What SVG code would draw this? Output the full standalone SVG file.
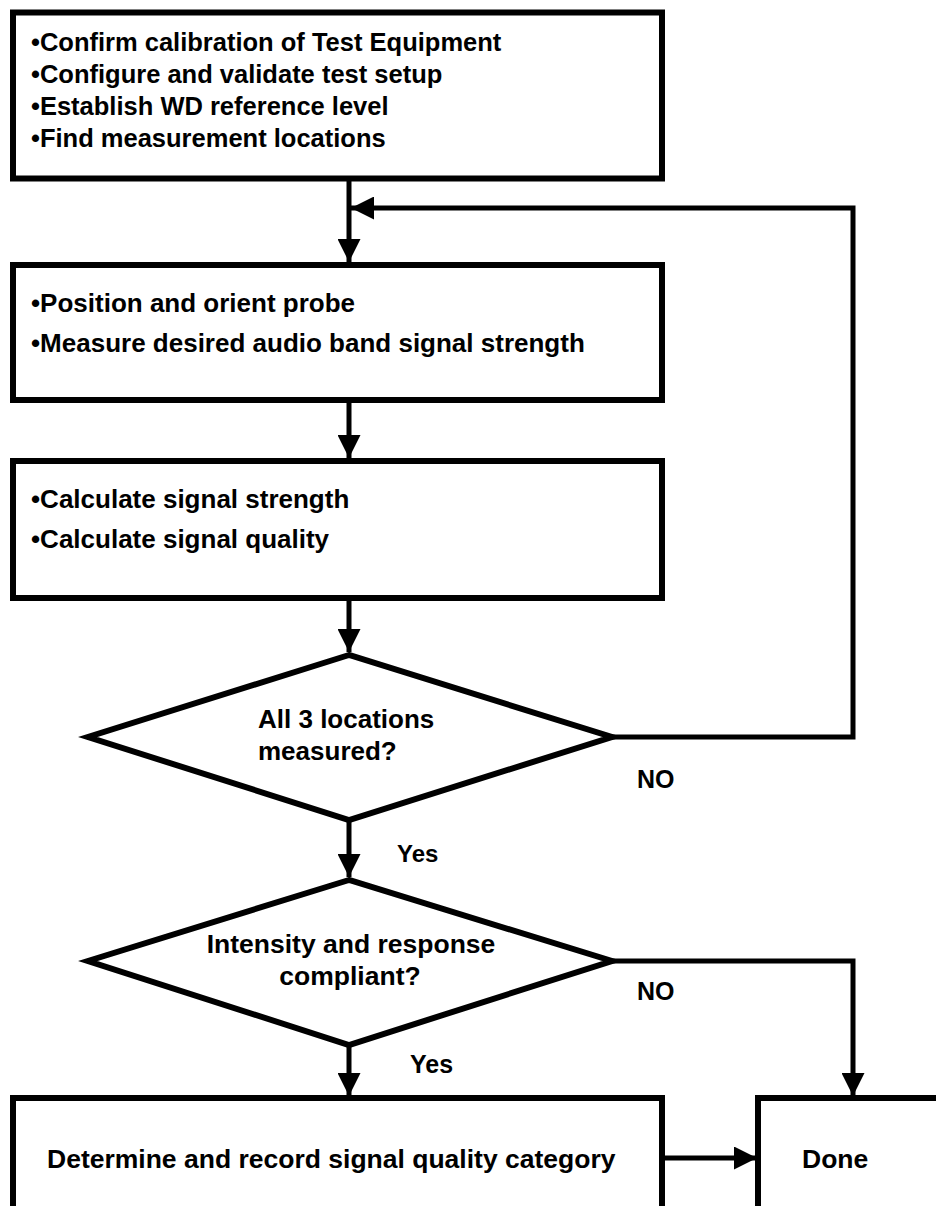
<svg xmlns="http://www.w3.org/2000/svg" width="936" height="1206" viewBox="0 0 936 1206">
<defs>
<style>
.box{fill:#fff;stroke:#000;stroke-width:6}
.ln{fill:none;stroke:#000;stroke-width:5}
.t{font-family:"Liberation Sans",Arial,sans-serif;font-weight:bold;fill:#000}
</style>
<marker id="ah" viewBox="0 0 10 10" refX="10" refY="5" markerWidth="4.6" markerHeight="4.6" markerUnits="strokeWidth" orient="auto">
<path d="M0,0 L10,5 L0,10 z" fill="#000"/>
</marker>
</defs>
<rect width="936" height="1206" fill="#fff"/>
<g id="connectors">
<line class="ln" x1="349" y1="179" x2="349" y2="262" marker-end="url(#ah)"/>
<polyline class="ln" points="612,737 853,737 853,208 351,208" marker-end="url(#ah)"/>
<line class="ln" x1="349" y1="400" x2="349" y2="458" marker-end="url(#ah)"/>
<line class="ln" x1="349" y1="598" x2="349" y2="652" marker-end="url(#ah)"/>
<line class="ln" x1="349" y1="820" x2="349" y2="877" marker-end="url(#ah)"/>
<polyline class="ln" points="612,961 853,961 853,1096" marker-end="url(#ah)"/>
<line class="ln" x1="349" y1="1045" x2="349" y2="1096" marker-end="url(#ah)"/>
<line class="ln" x1="662" y1="1158" x2="757" y2="1158" marker-end="url(#ah)"/>
<text class="t" x="637" y="788" font-size="25">NO</text>
<text class="t" x="637" y="1000" font-size="25">NO</text>
<text class="t" x="397" y="862" font-size="24">Yes</text>
<text class="t" x="410" y="1073" font-size="25">Yes</text>
</g>
<g id="n1">
<rect class="box" x="13" y="12.5" width="649" height="166"/>
<text class="t" font-size="25.5"><tspan x="31" y="51">•Confirm calibration of Test Equipment</tspan><tspan x="31" y="83">•Configure and validate test setup</tspan><tspan x="31" y="115">•Establish WD reference level</tspan><tspan x="31" y="147">•Find measurement locations</tspan></text>
</g>
<g id="n2">
<rect class="box" x="13" y="265" width="649" height="135"/>
<text class="t" font-size="26"><tspan x="31" y="312">•Position and orient probe</tspan><tspan x="31" y="352">•Measure desired audio band signal strength</tspan></text>
</g>
<g id="n3">
<rect class="box" x="13" y="461" width="649" height="137"/>
<text class="t" font-size="26"><tspan x="31" y="508">•Calculate signal strength</tspan><tspan x="31" y="548">•Calculate signal quality</tspan></text>
</g>
<g id="n4">
<polygon class="box" points="349,655 88,737 349,820 612,737"/>
<text class="t" font-size="26"><tspan x="258" y="728">All 3 locations</tspan><tspan x="258" y="760">measured?</tspan></text>
</g>
<g id="n5">
<polygon class="box" points="349,880 88,961 349,1045 612,961"/>
<text class="t" font-size="26.5" text-anchor="middle"><tspan x="351" y="953">Intensity and response</tspan><tspan x="350" y="985">compliant?</tspan></text>
</g>
<g id="n6">
<rect class="box" x="13" y="1098" width="649" height="130"/>
<text class="t" font-size="26.5" x="47" y="1168">Determine and record signal quality category</text>
</g>
<g id="n7">
<rect class="box" x="758" y="1098" width="200" height="130"/>
<text class="t" font-size="26.5" x="802" y="1168">Done</text>
</g>
</svg>
